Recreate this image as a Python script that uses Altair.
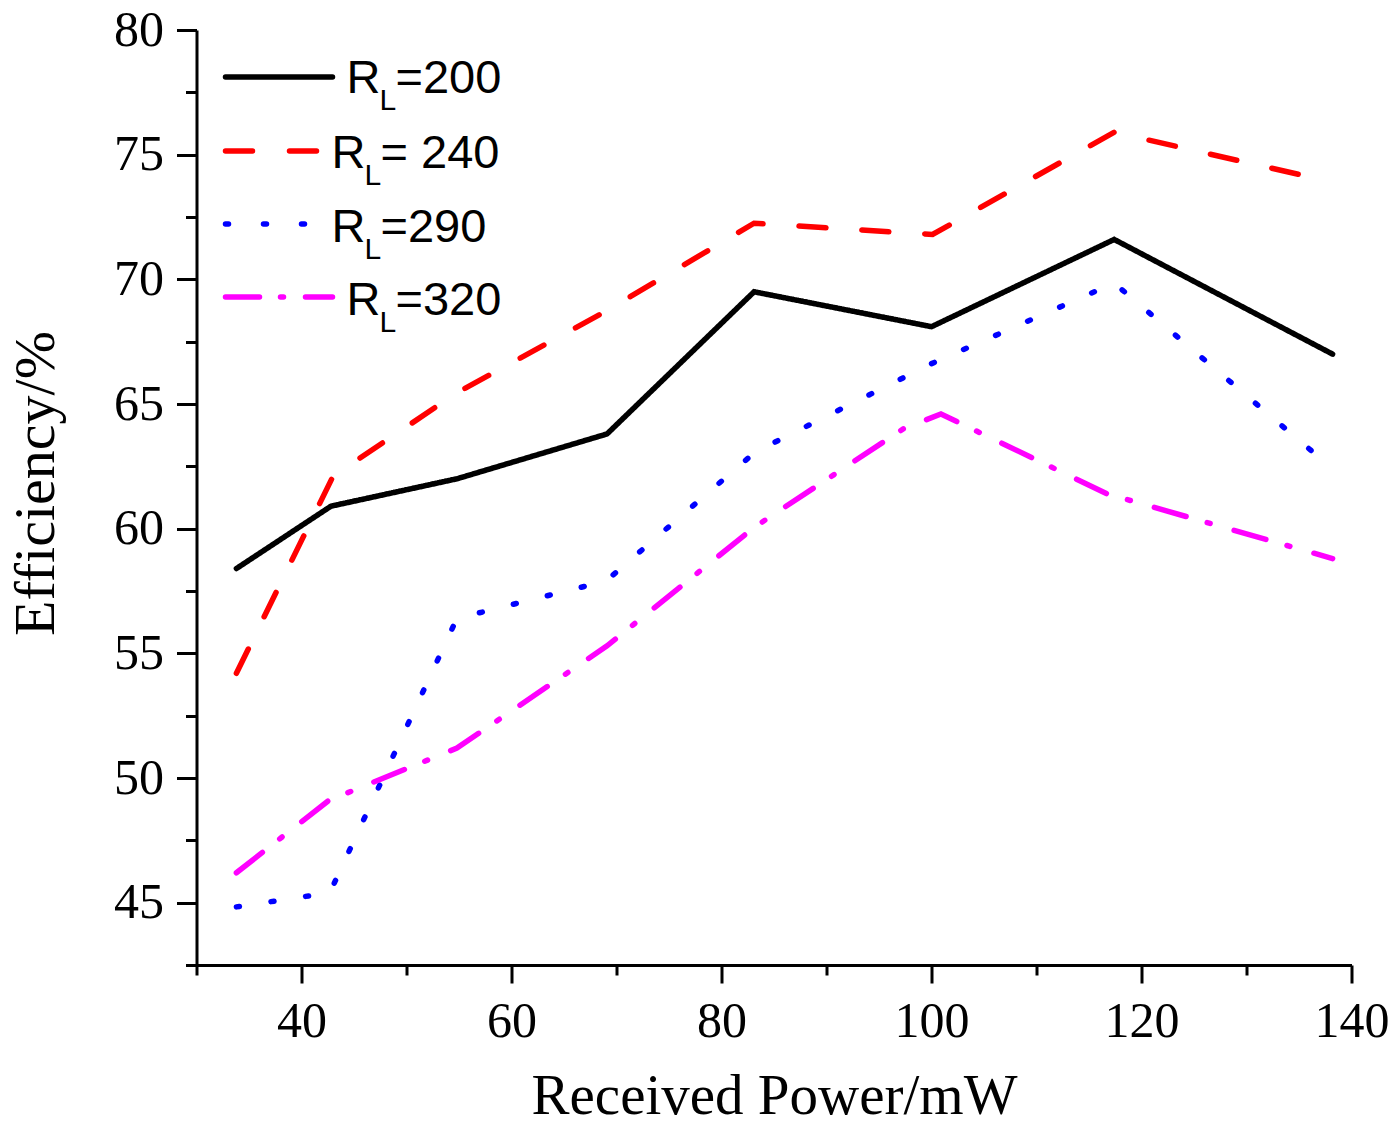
import altair as alt
import pandas as pd

# ---- data ----
series = ["RL=200", "RL=240", "RL=290", "RL=320"]
legend_tail = ["=200", "= 240", "=290", "=320"]
colors = ["#000000", "#FF0000", "#0000FF", "#FF00FF"]

x200 = [33.8, 42.8, 54.8, 69.1, 83.1, 100.0, 117.4, 138.2]
y200 = [58.4, 60.9, 62.0, 63.8, 69.5, 68.1, 71.6, 67.0]
x240 = [33.8, 43.0, 54.8, 69.1, 83.1, 100.1, 117.4, 138.2]
y240 = [54.2, 62.1, 65.45, 68.75, 72.25, 71.8, 75.9, 73.9]
x290 = [33.8, 42.7, 54.8, 69.0, 83.2, 99.9, 117.4, 138.2]
y290 = [44.83, 45.4, 56.4, 57.9, 63.07, 66.6, 69.85, 62.4]
x320 = [33.8, 42.6, 54.8, 69.1, 83.1, 97.3, 100.9, 116.7, 138.2]
y320 = [46.2, 49.1, 51.2, 55.3, 60.05, 64.0, 64.6, 61.4, 58.8]

x_ticks = [30, 40, 50, 60, 70, 80, 90, 100, 110, 120, 130, 140]
y_ticks = [42.5, 45, 47.5, 50, 52.5, 55, 57.5, 60, 62.5, 65, 67.5, 70, 72.5, 75, 77.5, 80]

rows = []
for s, xs, ys in zip(series, [x200, x240, x290, x320], [y200, y240, y290, y320]):
    for i, (a, b) in enumerate(zip(xs, ys)):
        rows.append({"series": s, "power": a, "eff": b, "idx": i})
df = pd.DataFrame(rows)

# ---- styling ----
W, H = 1155, 935
SERIF = "Liberation Serif"
SANS = "Liberation Sans"
line_dashes = [[1, 0], [27, 36], [3, 32], [33, 22, 3, 25]]

xaxis = alt.Axis(
    values=x_ticks,
    title="Received Power/mW",
    labelExpr="datum.value % 20 == 0 ? datum.label : ''",
    tickSize={"condition": {"test": "datum.value % 20 == 0", "value": 18}, "value": 10},
    grid=False, domainColor="black", domainWidth=3, tickColor="black", tickWidth=3,
    labelFont=SERIF, labelFontSize=50, labelColor="black", labelPadding=13,
    labelFlush=False, labelOverlap=False,
    titleFont=SERIF, titleFontSize=57, titleFontWeight="normal", titleColor="black",
    titleY=148, titleBaseline="alphabetic",
)
yaxis = alt.Axis(
    values=y_ticks,
    title="Efficiency/%",
    labelExpr="datum.value % 5 == 0 ? datum.label : ''",
    tickSize={"condition": {"test": "datum.value % 5 == 0", "value": 20}, "value": 11},
    grid=False, domainColor="black", domainWidth=3, tickColor="black", tickWidth=3,
    labelFont=SERIF, labelFontSize=50, labelColor="black", labelPadding=13,
    labelFlush=False, labelOverlap=False,
    titleFont=SERIF, titleFontSize=58, titleFontWeight="normal", titleColor="black",
    titleX=-143, titleY=453, titleBaseline="alphabetic", titleAlign="center", titleAngle=270,
)

lines = alt.Chart(df).mark_line(strokeWidth=5.5, strokeCap="round").encode(
    x=alt.X("power:Q", scale=alt.Scale(domain=[30, 140], nice=False, zero=False), axis=xaxis),
    y=alt.Y("eff:Q", scale=alt.Scale(domain=[42.5, 80], nice=False, zero=False), axis=yaxis),
    color=alt.Color("series:N", scale=alt.Scale(domain=series, range=colors), legend=None),
    strokeDash=alt.StrokeDash("series:N", scale=alt.Scale(domain=series, range=line_dashes), legend=None),
    order="idx:Q",
)

# ---- hand-made legend (subscript L) ----
one = pd.DataFrame({"k": [0]})
leg_y = [47, 121, 194, 267]
leg_x2 = [136, 121, 109, 136]
leg_dash = [[1, 0], [27, 37], [3, 35], [34, 21, 3, 22]]
leg_rx = [150, 135, 135, 150]
leg_base = [63, 138, 212, 285]

layers = [lines]
for i in range(4):
    layers.append(
        alt.Chart(one).mark_rule(color=colors[i], strokeWidth=5.5, strokeCap="round",
                                 strokeDash=leg_dash[i]).encode(
            x=alt.value(29), x2=alt.value(leg_x2[i]), y=alt.value(leg_y[i]))
    )
    layers.append(
        alt.Chart(one).mark_text(align="left", baseline="alphabetic", font=SANS,
                                 fontSize=47, color="black").encode(
            x=alt.value(leg_rx[i]), y=alt.value(leg_base[i]), text=alt.value("R"))
    )
    layers.append(
        alt.Chart(one).mark_text(align="left", baseline="alphabetic", font=SANS,
                                 fontSize=30, color="black").encode(
            x=alt.value(leg_rx[i] + 33), y=alt.value(leg_base[i] + 17), text=alt.value("L"))
    )
    layers.append(
        alt.Chart(one).mark_text(align="left", baseline="alphabetic", font=SANS,
                                 fontSize=47, color="black").encode(
            x=alt.value(leg_rx[i] + 49), y=alt.value(leg_base[i]), text=alt.value(legend_tail[i]))
    )

chart = alt.layer(*layers).properties(
    width=W, height=H,
    autosize=alt.AutoSizeParams(type="none"),
    padding={"left": 188.5, "top": 22, "right": 40, "bottom": 170},
    background="white",
).configure_view(stroke=None)

chart.save("out.html", embed_options={"renderer": "svg", "actions": False})
